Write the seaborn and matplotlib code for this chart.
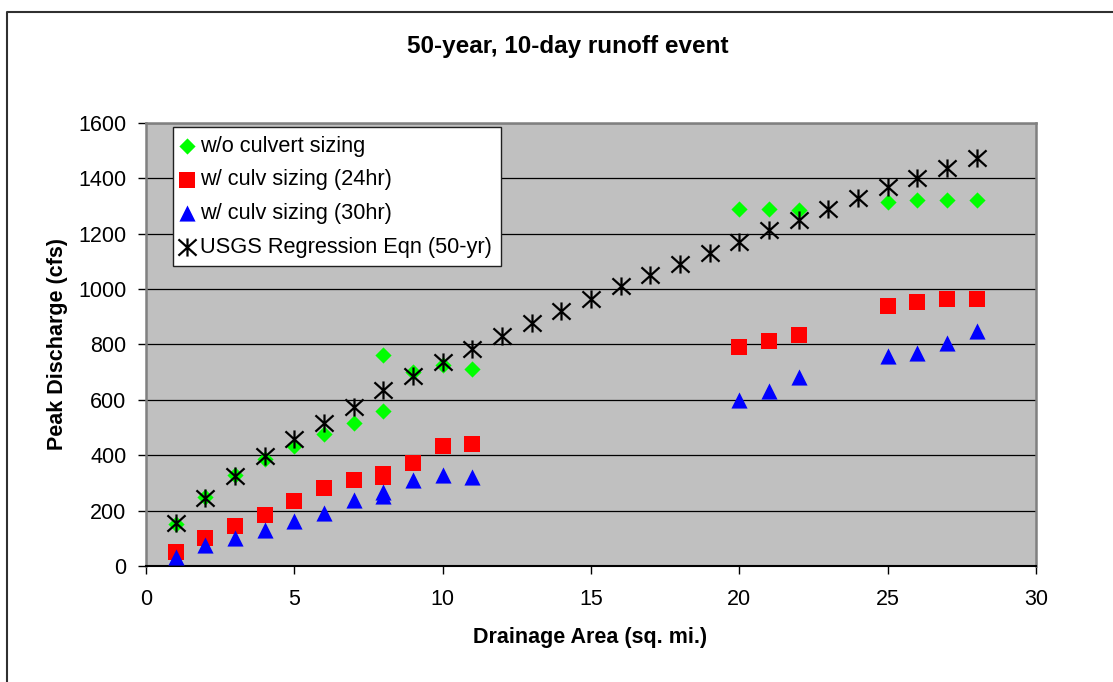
import matplotlib
matplotlib.use("Agg")
import matplotlib.pyplot as plt
from matplotlib.path import Path
from matplotlib.lines import Line2D
import seaborn as sns
import pandas as pd

# Drainage area (sq. mi.) and peak discharge (cfs) per scenario
area_wo = [1, 2, 3, 4, 5, 6, 7, 8, 8, 9, 10, 11, 20, 21, 22, 25, 26, 27, 28]
q_wo = [150, 250, 330, 388, 432, 478, 518, 560, 763, 700, 727, 710,
        1288, 1289, 1287, 1316, 1322, 1322, 1322]

area_culv = [1, 2, 3, 4, 5, 6, 7, 8, 8, 9, 10, 11, 20, 21, 22, 25, 26, 27, 28]
q_24hr = [52, 100, 145, 185, 233, 280, 312, 320, 332, 372, 435, 442,
          792, 812, 836, 939, 952, 963, 963]
q_30hr = [34, 76, 100, 131, 161, 193, 239, 251, 266, 312, 330, 322,
          601, 631, 683, 758, 771, 807, 848]

area_usgs = list(range(1, 29))
q_usgs = [155, 245, 326, 397, 459, 517, 575, 636, 687, 737, 783, 832, 878, 922,
          965, 1012, 1052, 1092, 1131, 1171, 1213, 1249, 1289, 1328, 1367, 1402,
          1439, 1472]

labels = ["w/o culvert sizing", "w/ culv sizing (24hr)",
          "w/ culv sizing (30hr)", "USGS Regression Eqn (50-yr)"]
x_ticks = [0, 5, 10, 15, 20, 25, 30]
y_ticks = [0, 200, 400, 600, 800, 1000, 1200, 1400, 1600]

plt.rcParams["font.family"] = ["Liberation Sans", "DejaVu Sans"]

fig = plt.figure(figsize=(11.13, 6.82), dpi=100)
ax = fig.add_axes([0.1312, 0.1701, 0.7996, 0.6496])
ax.set_facecolor("#C0C0C0")

# asterisk marker: vertical bar plus an X
star = Path([(0, -1), (0, 1), (-1, -0.9), (1, 0.9), (-1, 0.9), (1, -0.9)],
            [Path.MOVETO, Path.LINETO] * 3)

df_wo = pd.DataFrame({"area": area_wo, "q": q_wo})
df_24 = pd.DataFrame({"area": area_culv, "q": q_24hr})
df_30 = pd.DataFrame({"area": area_culv, "q": q_30hr})
df_us = pd.DataFrame({"area": area_usgs, "q": q_usgs})

sns.scatterplot(data=df_wo, x="area", y="q", ax=ax, marker="D", s=68,
                color="#00FF00", edgecolor="#00FF00", linewidth=0,
                label=labels[0], zorder=3)
sns.scatterplot(data=df_24, x="area", y="q", ax=ax, marker="s", s=130,
                color="#FF0000", edgecolor="#FF0000", linewidth=0,
                label=labels[1], zorder=3)
sns.scatterplot(data=df_30, x="area", y="q", ax=ax, marker="^", s=135,
                color="#0000FF", edgecolor="#0000FF", linewidth=0,
                label=labels[2], zorder=3)
sns.scatterplot(data=df_us, x="area", y="q", ax=ax, marker=star, s=170,
                color="black", edgecolor="black", linewidth=1.6,
                label=labels[3], zorder=4)

ax.set_xlim(0, 30)
ax.set_ylim(0, 1600)
ax.set_xticks(x_ticks)
ax.set_yticks(y_ticks)
ax.set_xticklabels([str(t) for t in x_ticks])
ax.set_yticklabels([str(t) for t in y_ticks])
ax.yaxis.grid(True, color="black", linewidth=0.9)
ax.xaxis.grid(False)
ax.set_axisbelow(True)

ax.tick_params(axis="x", direction="out", length=6, width=1, pad=10.5,
               labelsize=15.5, colors="black")
ax.tick_params(axis="y", direction="out", length=6, width=1, pad=8,
               labelsize=15.5, colors="black")

for side in ("top", "right", "left"):
    ax.spines[side].set_color("#808080")
    ax.spines[side].set_linewidth(1.8)
ax.spines["bottom"].set_color("black")
ax.spines["bottom"].set_linewidth(1.5)

ax.set_xlabel("Drainage Area (sq. mi.)", fontsize=15.5, fontweight="bold")
ax.set_ylabel("Peak Discharge (cfs)", fontsize=15.5, fontweight="bold")
ax.xaxis.set_label_coords(0.499, -0.138)
ax.yaxis.set_label_coords(-0.0876, 0.501)

fig.text(568 / 1113, 1 - 47 / 682, "50-year, 10-day runoff event",
         ha="center", va="center", fontsize=17.5, fontweight="bold")

handles, labs = ax.get_legend_handles_labels()
leg = ax.legend(handles, labs, loc="upper left", bbox_to_anchor=(0.0299, 0.991),
                borderaxespad=0, fontsize=15.7, frameon=True, fancybox=False,
                framealpha=1, edgecolor="#202020", facecolor="white",
                handlelength=0.53, handletextpad=0.34, borderpad=0.4,
                labelspacing=0.58, markerscale=1.0)
leg.get_frame().set_linewidth(1.0)

# outer chart frame
fig.add_artist(Line2D([7.3 / 1113, 7.3 / 1113, 1.0],
                      [0.0, 1 - 12.3 / 682, 1 - 12.3 / 682],
                      transform=fig.transFigure, color="#303030", linewidth=1.5))

fig.savefig("out.png", dpi=100, facecolor="white")
